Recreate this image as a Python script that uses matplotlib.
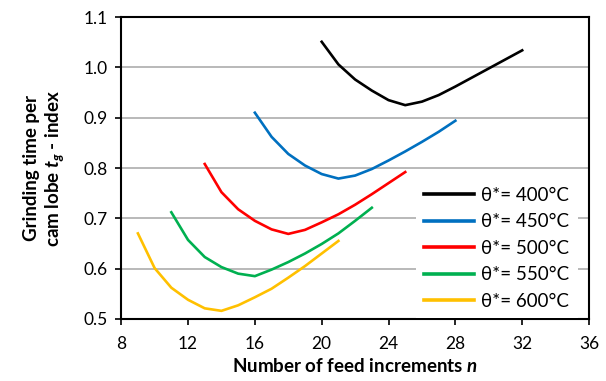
import matplotlib
matplotlib.use("Agg")
import matplotlib.pyplot as plt

plt.rcParams["font.family"] = ["Lato", "DejaVu Sans"]
plt.rcParams["mathtext.fontset"] = "custom"
plt.rcParams["mathtext.it"] = "Lato:bold:italic"
plt.rcParams["mathtext.rm"] = "Lato:bold"

# feed increments n and grinding time index for each temperature
n_400 = [20, 21, 22, 23, 24, 25, 26, 27, 28, 29, 30, 31, 32]
t_400 = [1.051, 1.006, 0.976, 0.954, 0.935, 0.925, 0.932, 0.945, 0.962, 0.980, 0.998, 1.016, 1.034]

n_450 = [16, 17, 18, 19, 20, 21, 22, 23, 24, 25, 26, 27, 28]
t_450 = [0.910, 0.862, 0.828, 0.805, 0.788, 0.779, 0.785, 0.798, 0.815, 0.833, 0.852, 0.872, 0.894]

n_500 = [13, 14, 15, 16, 17, 18, 19, 20, 21, 22, 23, 24, 25]
t_500 = [0.808, 0.752, 0.718, 0.695, 0.678, 0.669, 0.677, 0.692, 0.708, 0.727, 0.748, 0.770, 0.792]

n_550 = [11, 12, 13, 14, 15, 16, 17, 18, 19, 20, 21, 22, 23]
t_550 = [0.712, 0.657, 0.623, 0.603, 0.590, 0.585, 0.598, 0.613, 0.630, 0.649, 0.670, 0.695, 0.721]

n_600 = [9, 10, 11, 12, 13, 14, 15, 16, 17, 18, 19, 20, 21]
t_600 = [0.670, 0.601, 0.562, 0.538, 0.521, 0.516, 0.527, 0.543, 0.560, 0.582, 0.605, 0.630, 0.655]

series = [
    (n_400, t_400, "θ*= 400°C", "#000000"),
    (n_450, t_450, "θ*= 450°C", "#0070C0"),
    (n_500, t_500, "θ*= 500°C", "#FF0000"),
    (n_550, t_550, "θ*= 550°C", "#00B050"),
    (n_600, t_600, "θ*= 600°C", "#FFC000"),
]

fig = plt.figure(figsize=(6.06, 3.81), dpi=100)
ax = fig.add_axes([0.2, 0.163, 0.772, 0.792])

for n, t, lab, col in series:
    ax.plot(n, t, color=col, lw=1.9, label=lab)

ax.set_xlim(8, 36)
ax.set_ylim(0.5, 1.1)
ax.set_xticks([8, 12, 16, 20, 24, 28, 32, 36])
ax.set_yticks([0.5, 0.6, 0.7, 0.8, 0.9, 1.0, 1.1])
ax.set_yticklabels(["0.5", "0.6", "0.7", "0.8", "0.9", "1.0", "1.1"])
ax.grid(axis="y", color="#a6a6a6", lw=1.1)
ax.set_axisbelow(True)
for s in ax.spines.values():
    s.set_linewidth(1.5)
ax.tick_params(direction="out", length=4, width=1.2, labelsize=12.5, pad=6)
ax.tick_params(axis="x", pad=8)

ax.set_xlabel("Number of feed increments $n$", fontsize=13.5, fontweight="bold", labelpad=4)
ax.set_ylabel("Grinding time per\ncam lobe $t_g$ - index", fontsize=13.5,
              fontweight="bold", labelpad=12, linespacing=1.2)

leg = ax.legend(loc="lower right", bbox_to_anchor=(0.978, 0.0), fontsize=13.5,
                frameon=True, fancybox=False, framealpha=1, handlelength=2.67,
                handletextpad=0.37, labelspacing=0.5, borderpad=0.45,
                borderaxespad=0.05)
leg.get_frame().set_edgecolor("none")
leg.get_frame().set_facecolor("white")
for line in leg.get_lines():
    line.set_linewidth(2.6)

fig.savefig("out.png", dpi=100)
